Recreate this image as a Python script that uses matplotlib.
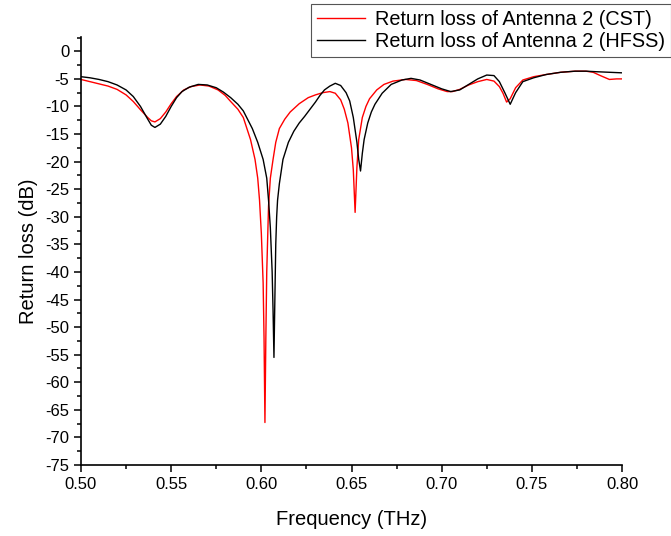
import matplotlib.pyplot as plt
from matplotlib.ticker import MultipleLocator

plt.rcParams['font.family'] = ['Liberation Sans', 'DejaVu Sans']
plt.rcParams['axes.unicode_minus'] = False

# CST simulation, return loss of antenna 2
freq_cst = [0.500, 0.505, 0.510, 0.515, 0.520, 0.525, 0.529, 0.533, 0.537, 0.539,
            0.541, 0.544, 0.547, 0.550, 0.553, 0.557, 0.561, 0.566, 0.571, 0.576,
            0.580, 0.583, 0.587, 0.590, 0.594, 0.5965, 0.598, 0.599, 0.600, 0.601,
            0.6015, 0.602, 0.6025, 0.603, 0.604, 0.605, 0.6065, 0.608, 0.610, 0.613,
            0.616, 0.621, 0.626, 0.630, 0.634, 0.638, 0.641, 0.644, 0.646, 0.648,
            0.650, 0.651, 0.652, 0.653, 0.654, 0.656, 0.658, 0.660, 0.664, 0.668,
            0.673, 0.680, 0.686, 0.692, 0.698, 0.703, 0.706, 0.710, 0.715, 0.720,
            0.725, 0.729, 0.732, 0.734, 0.736, 0.738, 0.741, 0.745, 0.751, 0.758,
            0.766, 0.774, 0.780, 0.784, 0.788, 0.793, 0.797, 0.800]
rl_cst = [-5.1, -5.5, -5.9, -6.3, -6.9, -7.9, -9.1, -10.6, -12.0, -12.6,
          -12.8, -12.2, -11.0, -9.5, -8.2, -7.0, -6.4, -6.1, -6.3, -7.0,
          -8.0, -9.1, -10.5, -12.0, -16.0, -19.6, -23.0, -27.0, -33.0, -42.0,
          -52.0, -67.3, -52.0, -40.0, -28.0, -23.0, -19.6, -16.5, -14.0, -12.3,
          -11.0, -9.5, -8.4, -7.9, -7.5, -7.3, -7.6, -8.8, -10.5, -13.0,
          -17.5, -21.5, -29.2, -21.0, -16.0, -12.0, -10.0, -8.6, -7.0, -6.0,
          -5.4, -5.1, -5.3, -6.0, -6.8, -7.3, -7.3, -6.9, -6.1, -5.5,
          -5.1, -5.4, -6.4, -7.6, -9.2, -8.6, -6.6, -5.2, -4.6, -4.2,
          -3.8, -3.6, -3.6, -3.8, -4.4, -5.1, -5.0, -5.0]

# HFSS simulation, return loss of antenna 2
freq_hfss = [0.500, 0.505, 0.510, 0.515, 0.520, 0.525, 0.529, 0.533, 0.537, 0.539,
             0.541, 0.544, 0.547, 0.550, 0.553, 0.556, 0.560, 0.565, 0.570, 0.575,
             0.579, 0.583, 0.587, 0.590, 0.595, 0.598, 0.601, 0.603, 0.604, 0.605,
             0.606, 0.6065, 0.607, 0.6075, 0.608, 0.6085, 0.609, 0.610, 0.612, 0.615,
             0.618, 0.621, 0.624, 0.627, 0.630, 0.6325, 0.635, 0.638, 0.641, 0.644,
             0.647, 0.649, 0.651, 0.653, 0.654, 0.655, 0.656, 0.657, 0.659, 0.661,
             0.663, 0.667, 0.672, 0.678, 0.683, 0.688, 0.694, 0.700, 0.705, 0.710,
             0.715, 0.720, 0.725, 0.729, 0.732, 0.735, 0.738, 0.741, 0.745, 0.751,
             0.758, 0.766, 0.774, 0.780, 0.786, 0.793, 0.800]
rl_hfss = [-4.6, -4.8, -5.1, -5.5, -6.1, -7.0, -8.2, -10.0, -12.3, -13.4,
           -13.8, -13.2, -11.8, -10.0, -8.4, -7.3, -6.5, -6.0, -6.1, -6.6,
           -7.4, -8.4, -9.6, -10.8, -14.0, -16.5, -19.6, -23.0, -27.0, -32.0,
           -40.0, -47.0, -55.5, -45.0, -35.0, -30.0, -27.0, -24.0, -19.6, -16.5,
           -14.5, -13.0, -11.8, -10.5, -9.2, -8.0, -7.0, -6.3, -5.8, -6.2,
           -7.5, -9.0, -12.0, -16.5, -19.6, -21.7, -18.5, -16.0, -13.0, -11.0,
           -9.6, -7.6, -6.0, -5.2, -4.9, -5.2, -6.0, -6.8, -7.3, -7.0,
           -6.0, -5.0, -4.3, -4.4, -5.5, -7.5, -9.6, -7.5, -5.5, -4.8,
           -4.2, -3.8, -3.6, -3.6, -3.7, -3.8, -3.9]

fig = plt.figure(figsize=(6.71, 5.36), dpi=100)
ax = fig.add_axes([0.1207, 0.1325, 0.8063, 0.7985])

ax.plot(freq_cst, rl_cst, color='red', lw=1.0, label='Return loss of Antenna 2 (CST)')
ax.plot(freq_hfss, rl_hfss, color='black', lw=1.0, label='Return loss of Antenna 2 (HFSS)')

ax.set_xlim(0.50, 0.80)
ax.set_ylim(-75, 2.6)
ax.xaxis.set_major_locator(MultipleLocator(0.05))
ax.xaxis.set_minor_locator(MultipleLocator(0.025))
ax.yaxis.set_major_locator(MultipleLocator(5))
ax.yaxis.set_minor_locator(MultipleLocator(2.5))
ax.xaxis.set_major_formatter(plt.FormatStrFormatter('%.2f'))

ax.spines['top'].set_visible(False)
ax.spines['right'].set_visible(False)
for s in ('left', 'bottom'):
    ax.spines[s].set_linewidth(1.2)
ax.tick_params(which='both', direction='out', width=1.1, labelsize=12)
ax.tick_params(which='major', length=5)
ax.tick_params(which='minor', length=3)

ax.set_xlabel('Frequency (THz)', fontsize=14.5, labelpad=13)
ax.set_ylabel('Return loss (dB)', fontsize=14.5, labelpad=5)

leg = fig.legend(loc='upper right', bbox_to_anchor=(1.0, 0.992), fontsize=14.3,
                 fancybox=False, framealpha=1, edgecolor='#555555',
                 handlelength=2.4, handletextpad=0.5, borderpad=0.3,
                 labelspacing=0.15, borderaxespad=0)
leg.get_frame().set_linewidth(0.8)

fig.savefig('out.png', dpi=100)
